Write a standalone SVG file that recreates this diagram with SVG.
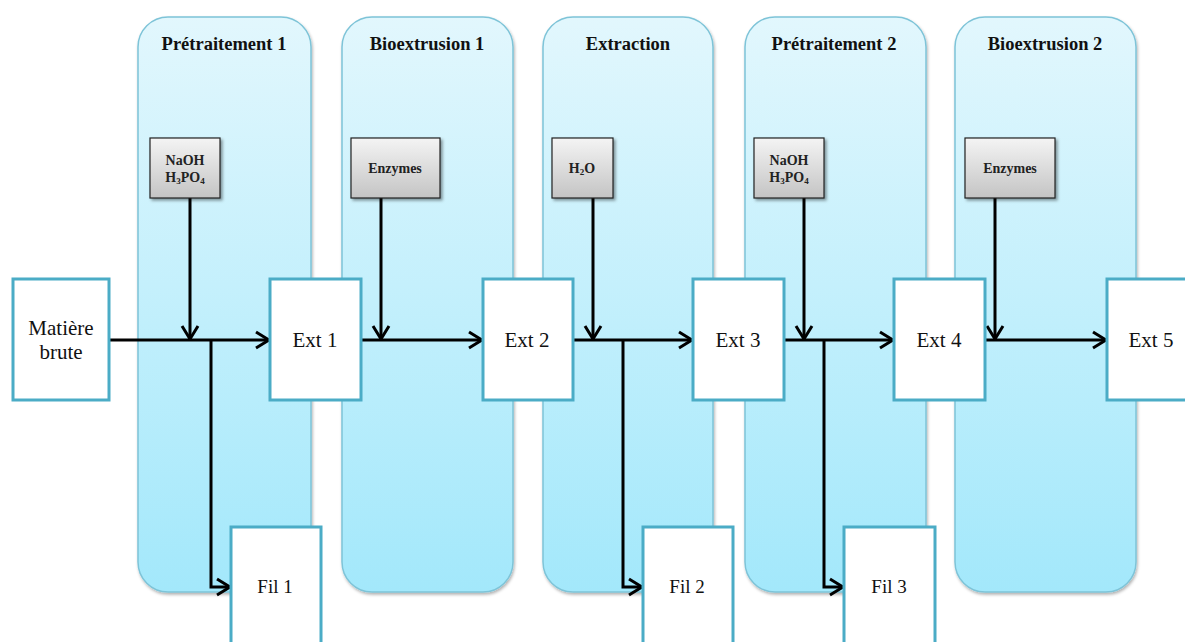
<svg xmlns="http://www.w3.org/2000/svg" width="1185" height="642" viewBox="0 0 1185 642">
<style>
.panel{fill:url(#pg);stroke:#7EC4D8;stroke-width:1.5;filter:url(#sh)}
.title{font-family:"Liberation Serif",serif;font-weight:bold;font-size:18.5px;fill:#111;text-anchor:middle}
.reag{fill:url(#gg);stroke:#222;stroke-width:1.2;filter:url(#sh2)}
.rt{font-family:"Liberation Serif",serif;font-weight:bold;font-size:14px;fill:#222;text-anchor:middle}
.box{fill:#fff;stroke:#4BACC6;stroke-width:3}
.bt{font-family:"Liberation Serif",serif;font-size:21px;fill:#111;text-anchor:middle}
.ft{font-family:"Liberation Serif",serif;font-size:19px;fill:#111;text-anchor:middle}
.ln{fill:none;stroke:#000;stroke-width:3}
</style>
<defs>
<linearGradient id="pg" x1="0" y1="0" x2="0" y2="1">
<stop offset="0" stop-color="#E2F7FD"/>
<stop offset="1" stop-color="#A3E8FB"/>
</linearGradient>
<linearGradient id="gg" x1="0" y1="0" x2="0" y2="1">
<stop offset="0" stop-color="#F4F4F4"/>
<stop offset="1" stop-color="#C4C4C4"/>
</linearGradient>
<filter id="sh" x="-10%" y="-5%" width="120%" height="110%">
<feDropShadow dx="1" dy="2" stdDeviation="1.5" flood-color="#000" flood-opacity="0.3"/>
</filter>
<filter id="sh2" x="-10%" y="-10%" width="130%" height="130%">
<feDropShadow dx="2" dy="2" stdDeviation="1.5" flood-color="#000" flood-opacity="0.4"/>
</filter>
<marker id="ah" markerUnits="userSpaceOnUse" markerWidth="16" markerHeight="20" viewBox="0 0 16 20" refX="14" refY="10" orient="auto">
<path d="M1,2 L14,10 L1,18" fill="none" stroke="#000" stroke-width="3"/>
</marker>
</defs>

<g id="panel-pretraitement1">
<rect class="panel" x="138" y="17" width="173" height="575" rx="30"/>
<text class="title" x="224" y="50">Prétraitement 1</text>
</g>
<g id="panel-bioextrusion1">
<rect class="panel" x="342" y="17" width="171" height="575" rx="30"/>
<text class="title" x="427" y="50">Bioextrusion 1</text>
</g>
<g id="panel-extraction">
<rect class="panel" x="543" y="17" width="170" height="575" rx="30"/>
<text class="title" x="628" y="50">Extraction</text>
</g>
<g id="panel-pretraitement2">
<rect class="panel" x="745" y="17" width="181" height="575" rx="30"/>
<text class="title" x="834" y="50">Prétraitement 2</text>
</g>
<g id="panel-bioextrusion2">
<rect class="panel" x="955" y="17" width="181" height="575" rx="30"/>
<text class="title" x="1045" y="50">Bioextrusion 2</text>
</g>

<g id="connectors">
<line class="ln" x1="190" y1="198" x2="190" y2="339" marker-end="url(#ah)"/>
<line class="ln" x1="381" y1="198" x2="381" y2="339" marker-end="url(#ah)"/>
<line class="ln" x1="593" y1="198" x2="593" y2="339" marker-end="url(#ah)"/>
<line class="ln" x1="804" y1="198" x2="804" y2="339" marker-end="url(#ah)"/>
<line class="ln" x1="995" y1="198" x2="995" y2="339" marker-end="url(#ah)"/>
<line class="ln" x1="109" y1="340" x2="269" y2="340" marker-end="url(#ah)"/>
<line class="ln" x1="361" y1="340" x2="482" y2="340" marker-end="url(#ah)"/>
<line class="ln" x1="573" y1="340" x2="692" y2="340" marker-end="url(#ah)"/>
<line class="ln" x1="784" y1="340" x2="893" y2="340" marker-end="url(#ah)"/>
<line class="ln" x1="985" y1="340" x2="1106" y2="340" marker-end="url(#ah)"/>
<polyline class="ln" points="211,340 211,587 230,587" marker-end="url(#ah)"/>
<polyline class="ln" points="623,340 623,587 642,587" marker-end="url(#ah)"/>
<polyline class="ln" points="824,340 824,587 843,587" marker-end="url(#ah)"/>
</g>

<g id="reagent-naoh1">
<rect class="reag" x="150" y="138" width="70" height="60"/>
<text class="rt" x="185" y="165">NaOH</text>
<text class="rt" x="185" y="182">H<tspan font-size="9" dy="2">3</tspan><tspan dy="-2">PO</tspan><tspan font-size="9" dy="2">4</tspan></text>
</g>
<g id="reagent-enzymes1">
<rect class="reag" x="351" y="138" width="89" height="60"/>
<text class="rt" x="395" y="173">Enzymes</text>
</g>
<g id="reagent-h2o">
<rect class="reag" x="552" y="138" width="61" height="60"/>
<text class="rt" x="582" y="173">H<tspan font-size="9" dy="2">2</tspan><tspan dy="-2">O</tspan></text>
</g>
<g id="reagent-naoh2">
<rect class="reag" x="754" y="138" width="70" height="60"/>
<text class="rt" x="789" y="165">NaOH</text>
<text class="rt" x="789" y="182">H<tspan font-size="9" dy="2">3</tspan><tspan dy="-2">PO</tspan><tspan font-size="9" dy="2">4</tspan></text>
</g>
<g id="reagent-enzymes2">
<rect class="reag" x="965" y="138" width="90" height="60"/>
<text class="rt" x="1010" y="173">Enzymes</text>
</g>

<g id="node-matiere">
<rect class="box" x="13" y="279" width="96" height="121"/>
<text class="bt" x="61" y="335">Matière</text>
<text class="bt" x="61" y="359">brute</text>
</g>
<g id="node-ext1">
<rect class="box" x="270" y="279" width="91" height="121"/>
<text class="bt" x="315" y="347">Ext 1</text>
</g>
<g id="node-ext2">
<rect class="box" x="483" y="279" width="90" height="121"/>
<text class="bt" x="527" y="347">Ext 2</text>
</g>
<g id="node-ext3">
<rect class="box" x="693" y="279" width="91" height="121"/>
<text class="bt" x="738" y="347">Ext 3</text>
</g>
<g id="node-ext4">
<rect class="box" x="894" y="279" width="91" height="121"/>
<text class="bt" x="939" y="347">Ext 4</text>
</g>
<g id="node-ext5">
<rect class="box" x="1107" y="279" width="91" height="121"/>
<text class="bt" x="1151" y="347">Ext 5</text>
</g>
<g id="node-fil1">
<rect class="box" x="231" y="527" width="90" height="130"/>
<text class="ft" x="275" y="593">Fil 1</text>
</g>
<g id="node-fil2">
<rect class="box" x="643" y="527" width="90" height="130"/>
<text class="ft" x="687" y="593">Fil 2</text>
</g>
<g id="node-fil3">
<rect class="box" x="844" y="527" width="91" height="130"/>
<text class="ft" x="889" y="593">Fil 3</text>
</g>
</svg>
